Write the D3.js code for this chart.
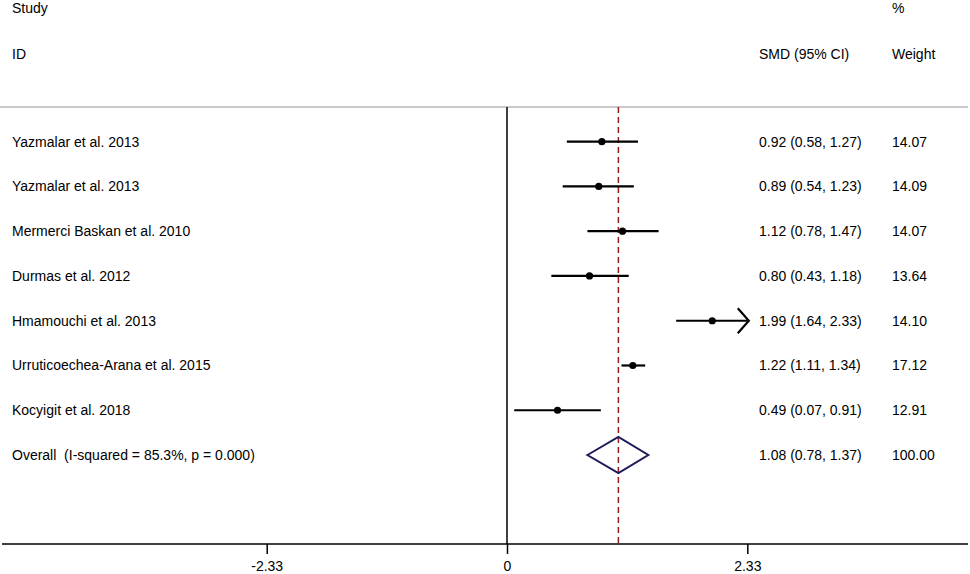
<!DOCTYPE html>
<html lang="en">
<head>
    <meta charset="UTF-8">
    <title>Forest plot</title>
    <script src="https://d3js.org/d3.v7.min.js"></script>
</head>
<style type="text/css">
    body { margin: 0; background: white; }
    svg text { font-family: "Liberation Sans", Arial, sans-serif; font-size: 14px; fill: #000; white-space: pre; }
</style>
<body>
<div id="chart"></div>

<script>
    var width = 970;
    var height = 574;

    // study data
    var studies = ["Yazmalar et al. 2013", "Yazmalar et al. 2013", "Mermerci Baskan et al. 2010",
        "Durmas et al. 2012", "Hmamouchi et al. 2013", "Urruticoechea-Arana et al. 2015", "Kocyigit et al. 2018"];
    var smd = [0.92, 0.89, 1.12, 0.80, 1.99, 1.22, 0.49];
    var lower = [0.58, 0.54, 0.78, 0.43, 1.64, 1.11, 0.07];
    var upper = [1.27, 1.23, 1.47, 1.18, 2.33, 1.34, 0.91];
    var weights = ["14.07", "14.09", "14.07", "13.64", "14.10", "17.12", "12.91"];

    var overallLabel = "Overall  (I-squared = 85.3%, p = 0.000)";
    var overall = {smd: 1.08, lower: 0.78, upper: 1.37, weight: "100.00"};

    var tickValues = [-2.33, 0, 2.33];
    var tickLabels = ["-2.33", "0", "2.33"];

    var f = d3.format(".2f");

    var svg = d3.select("#chart").append("svg").attr("width", width).attr("height", height);

    var x = d3.scaleLinear().domain([-2.33, 2.33]).range([266.7, 747.3]);
    var y = d3.scaleLinear().domain([0, studies.length]).range([141.7, 455]);

    var axisY = 544;
    var topY = 107;

    // headers
    svg.append("text").attr("x", 12).attr("y", 13).text("Study");
    svg.append("text").attr("x", 12).attr("y", 59).text("ID");
    svg.append("text").attr("x", 892).attr("y", 13).text("%");
    svg.append("text").attr("x", 759).attr("y", 59).text("SMD (95% CI)");
    svg.append("text").attr("x", 892).attr("y", 59).text("Weight");

    svg.append("line")
        .attr("x1", 0).attr("x2", 968)
        .attr("y1", topY).attr("y2", topY)
        .style("stroke", "#b8b8b8").style("stroke-width", 1.6);

    // zero line and overall effect line
    svg.append("line")
        .attr("x1", x(0)).attr("x2", x(0))
        .attr("y1", topY).attr("y2", axisY)
        .style("stroke", "black").style("stroke-width", 1.5);

    svg.append("line")
        .attr("x1", x(overall.smd)).attr("x2", x(overall.smd))
        .attr("y1", topY).attr("y2", axisY)
        .style("stroke", "#9b1c1c").style("stroke-width", 1.5)
        .style("stroke-dasharray", "6,4");

    // x axis
    var axis = d3.axisBottom(x)
        .tickValues(tickValues)
        .tickFormat(function (d, i) { return tickLabels[i]; })
        .tickSize(10)
        .tickSizeOuter(0);

    var gx = svg.append("g").attr("transform", "translate(0," + axisY + ")").call(axis);
    gx.select(".domain").remove();
    gx.selectAll(".tick line").style("stroke", "black").style("stroke-width", 1.5);
    gx.selectAll(".tick text").attr("y", 17).style("font-size", "14px")
        .style("font-family", "'Liberation Sans', Arial, sans-serif");
    svg.append("line")
        .attr("x1", 2).attr("x2", 968)
        .attr("y1", axisY).attr("y2", axisY)
        .style("stroke", "black").style("stroke-width", 1.5);

    var xmax = x.domain()[1];

    // study rows
    var rows = svg.selectAll(".row").data(studies).enter()
        .append("g").attr("class", "row")
        .attr("transform", function (d, i) { return "translate(0," + y(i) + ")"; });

    rows.append("text").attr("x", 12).attr("y", 5).text(function (d) { return d; });

    rows.append("line")
        .attr("x1", function (d, i) { return x(lower[i]); })
        .attr("x2", function (d, i) { return x(Math.min(upper[i], xmax)); })
        .attr("y1", 0).attr("y2", 0)
        .style("stroke", "black").style("stroke-width", 2.2);

    rows.filter(function (d, i) { return upper[i] >= xmax; })
        .append("path")
        .attr("d", function (d, i) {
            var tip = x(xmax) + 1.5;
            return "M" + (tip - 11) + ",-12.5L" + tip + ",0L" + (tip - 11) + ",12.5";
        })
        .style("fill", "none").style("stroke", "black").style("stroke-width", 2.2);

    rows.append("circle")
        .attr("cx", function (d, i) { return x(smd[i]); })
        .attr("cy", 0)
        .attr("r", 3.6)
        .style("fill", "black");

    rows.append("text").attr("x", 759).attr("y", 5)
        .text(function (d, i) { return f(smd[i]) + " (" + f(lower[i]) + ", " + f(upper[i]) + ")"; });
    rows.append("text").attr("x", 892).attr("y", 5)
        .text(function (d, i) { return weights[i]; });

    // overall row
    var oy = y(studies.length);
    svg.append("text").attr("x", 12).attr("y", oy + 5).text(overallLabel);
    svg.append("path")
        .attr("d", "M" + x(overall.lower) + "," + oy +
            "L" + x(overall.smd) + "," + (oy - 18) +
            "L" + x(overall.upper) + "," + oy +
            "L" + x(overall.smd) + "," + (oy + 18) + "Z")
        .style("fill", "none").style("stroke", "#1c1c5c").style("stroke-width", 2);
    svg.append("text").attr("x", 759).attr("y", oy + 5)
        .text(f(overall.smd) + " (" + f(overall.lower) + ", " + f(overall.upper) + ")");
    svg.append("text").attr("x", 892).attr("y", oy + 5).text(overall.weight);
</script>
</body>
</html>
